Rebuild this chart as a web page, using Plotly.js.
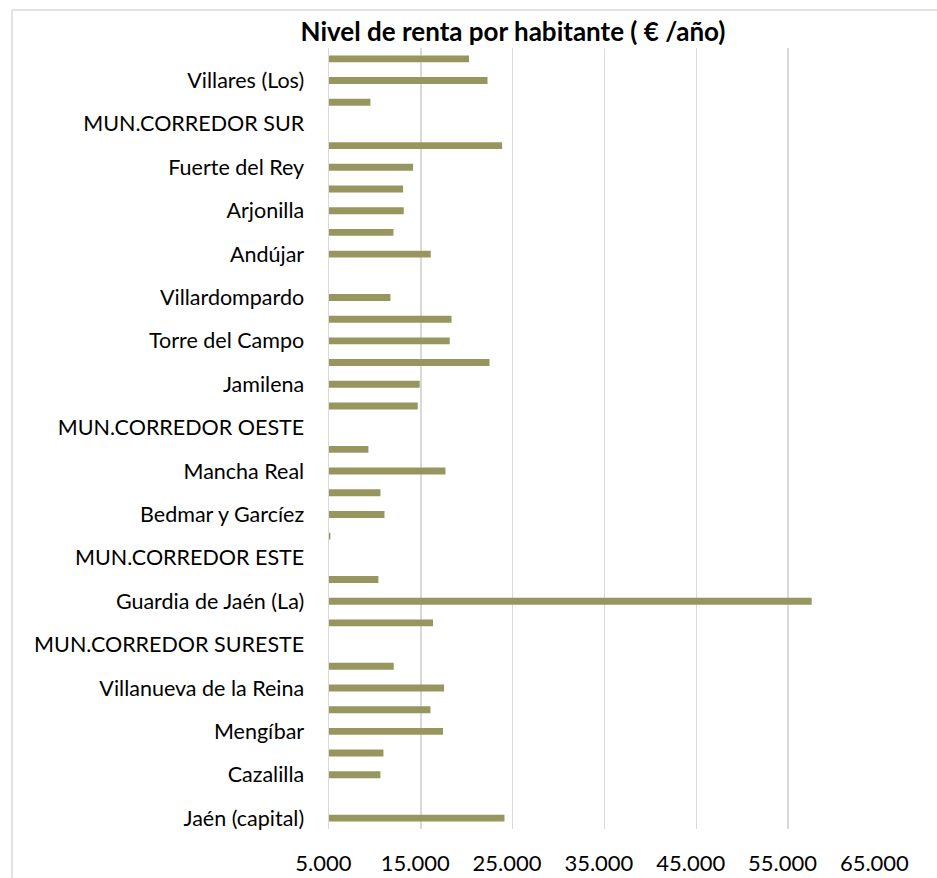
<!DOCTYPE html>
<html>
<head>
<meta charset="utf-8">
<script src="https://cdn.plot.ly/plotly-3.0.1.min.js"></script>
<style>
  html, body { margin: 0; padding: 0; background: #ffffff; }
  #chart { width: 937px; height: 878px; }
</style>
</head>
<body>
<div id="chart"></div>
<script>
// Categories, bottom to top (Excel order)
const municipios = [
  "Jaén (capital)",
  "MUN.CORREDOR NORTE",
  "Cazalilla",
  "Espeluy",
  "Mengíbar",
  "Torreblascopedro",
  "Villanueva de la Reina",
  "Villatorres",
  "MUN.CORREDOR SURESTE",
  "Cárcheles",
  "Guardia de Jaén (La)",
  "Pegalajar",
  "MUN.CORREDOR ESTE",
  "Albanchez de Mágina",
  "Bedmar y Garcíez",
  "Jimena",
  "Mancha Real",
  "Torres",
  "MUN.CORREDOR OESTE",
  "Fuensanta de Martos",
  "Jamilena",
  "Martos",
  "Torre del Campo",
  "Torredonjimeno",
  "Villardompardo",
  "MUN.CORREDOR NOROESTE",
  "Andújar",
  "Arjona",
  "Arjonilla",
  "Escañuela",
  "Fuerte del Rey",
  "Lahiguera",
  "MUN.CORREDOR SUR",
  "Valdepeñas de Jaén",
  "Villares (Los)",
  "ÁREA METROPOLITANA"
];

// Nivel de renta por habitante (€/año)
const renta = [
  24110, null, 10600, 10930, 17420, 16050, 17530, 12050, null, 16330,
  57560, 10380, null, 5150, 11040, 10600, 17680, 9290, null, 14660,
  14880, 22480, 18150, 18340, 11690, null, 16080, 12020, 13140, 13060,
  14150, 23850, null, 9510, 22260, 20250
];

// Only every other category label is drawn
const etiquetasVisibles = [
  "Jaén (capital)", "Cazalilla", "Mengíbar", "Villanueva de la Reina",
  "MUN.CORREDOR SURESTE", "Guardia de Jaén (La)", "MUN.CORREDOR ESTE",
  "Bedmar y Garcíez", "Mancha Real", "MUN.CORREDOR OESTE", "Jamilena",
  "Torre del Campo", "Villardompardo", "Andújar", "Arjonilla",
  "Fuerte del Rey", "MUN.CORREDOR SUR", "Villares (Los)"
];

const xTicks = [5000, 15000, 25000, 35000, 45000, 55000, 65000];
const xTickText = ["5.000", "15.000", "25.000", "35.000", "45.000", "55.000", "65.000"];

const tituloTexto = "Nivel de renta por habitante ( € /año)";

const FONT = "Lato, 'Open Sans', sans-serif";

const trace = {
  type: "bar",
  orientation: "h",
  y: municipios,
  x: renta,
  base: 0,
  marker: { color: "#98965f", line: { width: 0 } },
  hoverinfo: "skip"
};

const W = 937, H = 878;
const L = 329, R = 57, T = 48, B = 49;
const pw = W - L - R, ph = H - T - B;
const px2x = (px) => (px - L) / pw;
const py2y = (py) => 1 - (py - T) / ph;

const layout = {
  width: W,
  height: H,
  margin: { l: L, r: R, t: T, b: B, pad: 0 },
  paper_bgcolor: "#ffffff",
  plot_bgcolor: "#ffffff",
  showlegend: false,
  bargap: 0.68,
  font: { family: FONT, color: "#000000" },
  title: {
    text: "<b>" + tituloTexto + "</b>",
    font: { family: FONT, size: 26, color: "#000000" },
    xref: "paper",
    x: px2x(513),
    xanchor: "center",
    yref: "container",
    y: 1 - 32 / H,
    yanchor: "middle"
  },
  xaxis: {
    range: [5000, 65000],
    tickmode: "array",
    tickvals: xTicks,
    ticktext: xTickText.map(t => t + "\u00a0\u00a0"),
    showgrid: true,
    gridcolor: "#d9d9d9",
    gridwidth: 1.5,
    zeroline: false,
    showline: false,
    ticks: "",
    ticklabelstandoff: 19,
    tickfont: { family: FONT, size: 22, color: "#000000" },
    fixedrange: true
  },
  yaxis: {
    type: "category",
    categoryorder: "array",
    categoryarray: municipios,
    tickmode: "array",
    tickvals: etiquetasVisibles,
    ticktext: etiquetasVisibles,
    showgrid: false,
    zeroline: false,
    showline: true,
    linecolor: "#d9d9d9",
    linewidth: 1.5,
    ticks: "",
    ticklabelstandoff: 19,
    tickfont: { family: FONT, size: 21.5, color: "#000000" },
    fixedrange: true
  },
  shapes: [
    { type: "line", xref: "paper", yref: "paper",
      x0: px2x(12), x1: px2x(12), y0: py2y(10), y1: py2y(900),
      line: { color: "#d9d9d9", width: 1.5 } },
    { type: "line", xref: "paper", yref: "paper",
      x0: px2x(12), x1: px2x(960), y0: py2y(10), y1: py2y(10),
      line: { color: "#d9d9d9", width: 1.5 } }
  ]
};

Plotly.newPlot("chart", [trace], layout, { staticPlot: true, displayModeBar: false });
</script>
</body>
</html>
